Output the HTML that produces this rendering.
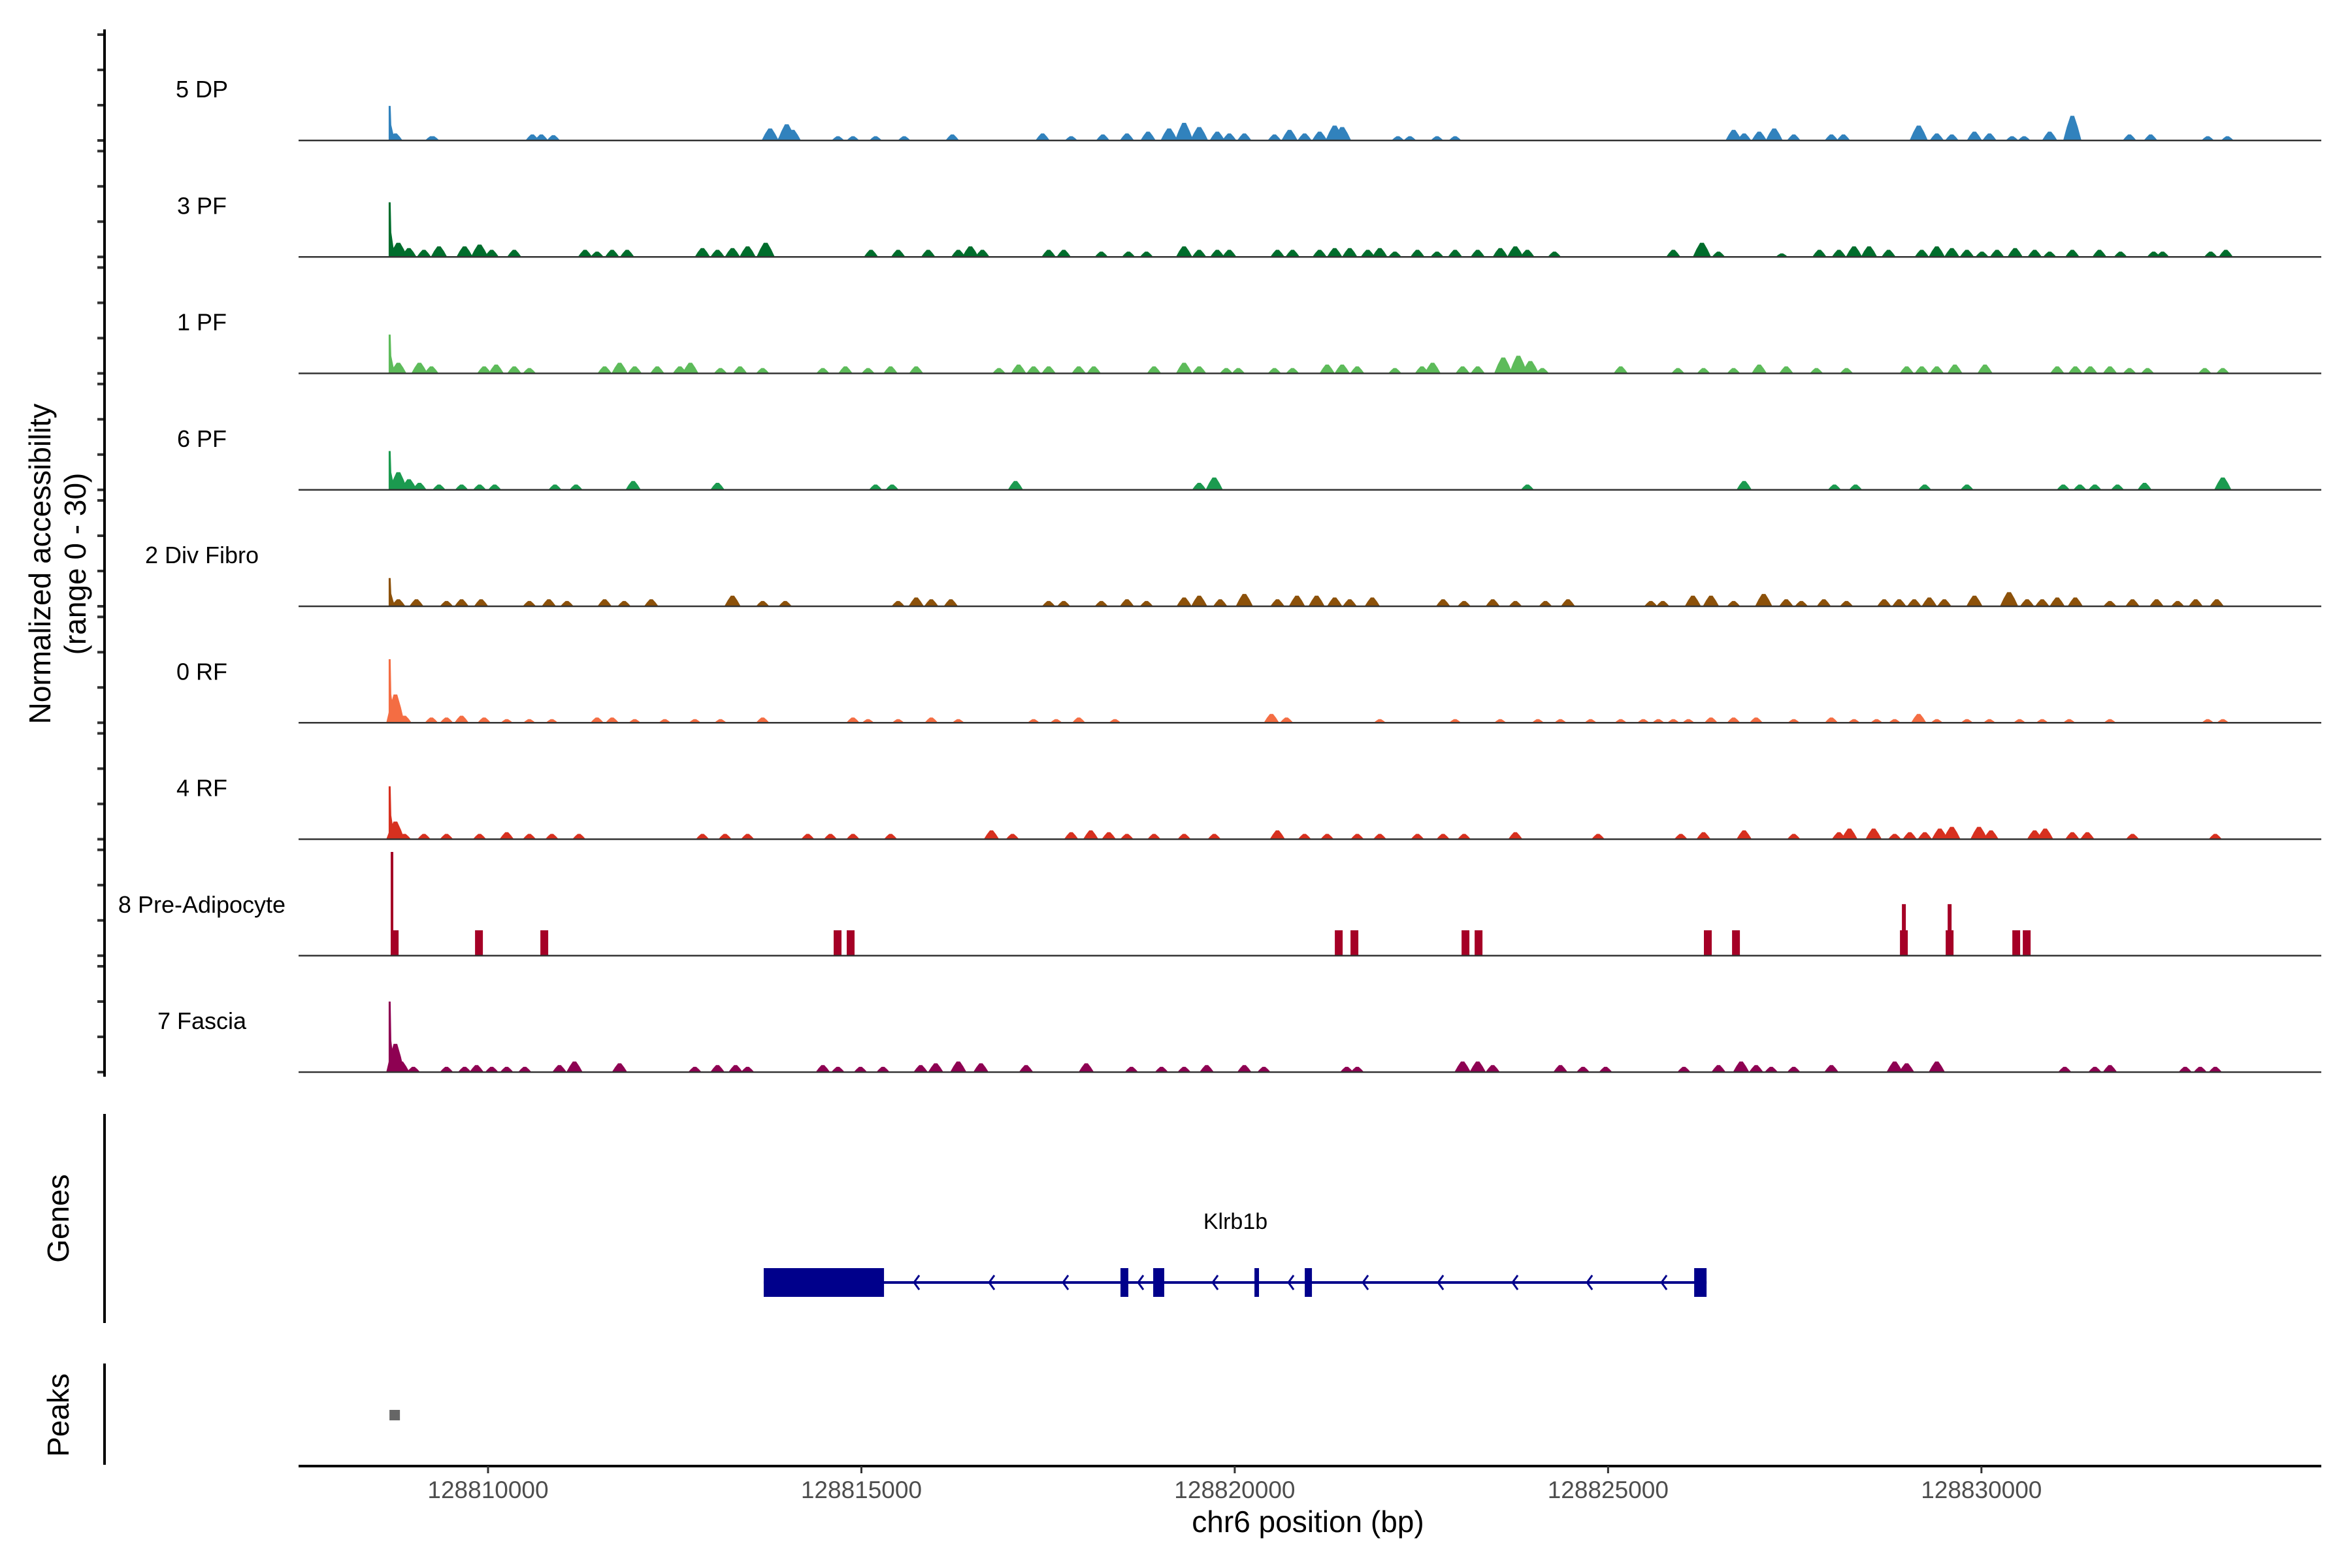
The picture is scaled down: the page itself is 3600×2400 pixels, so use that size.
<!DOCTYPE html>
<html><head><meta charset="utf-8">
<style>
html,body{margin:0;padding:0;background:#fff;}
svg{display:block;font-family:"Liberation Sans",Arial,sans-serif;}
</style></head>
<body>
<svg id="chart" width="3600" height="2400" viewBox="0 0 3600 2400" xmlns="http://www.w3.org/2000/svg">
<rect x="0" y="0" width="3600" height="2400" fill="#fff"/>
<g id="tracks"></g>
<g id="axes"></g>
<text transform="translate(77,863) rotate(-90)" text-anchor="middle" font-size="46" fill="#000">Normalized accessibility</text>
<text transform="translate(131,863) rotate(-90)" text-anchor="middle" font-size="46" fill="#000">(range 0 - 30)</text>
<text transform="translate(105,1865) rotate(-90)" text-anchor="middle" font-size="46" fill="#000">Genes</text>
<text transform="translate(105,2166) rotate(-90)" text-anchor="middle" font-size="46" fill="#000">Peaks</text>
<text x="2002" y="2345" text-anchor="middle" font-size="46" fill="#000">chr6 position (bp)</text>
</svg>
<script>
const CHROM_BASE = 128800150;
const trackNames = ["5 DP","3 PF","1 PF","6 PF","2 Div Fibro","0 RF","4 RF","8 Pre-Adipocyte","7 Fascia"];
const trackColors = ["#3182bd","#006d2c","#5dbb5a","#1b9a4f","#8c510a","#f46d43","#d7301f","#a50026","#8e0152"];
// positions are bp offsets from CHROM_BASE; values are normalized accessibility (0-30)
const pos0 = [8528,8609,9092,9113,10443,10564,10725,13628,13830,13850,13931,14536,14737,15040,15423,16068,17277,17660,18084,18406,18689,18971,19172,19374,19616,19777,19979,20382,20584,20785,20987,21188,21289,22035,22196,22559,22801,26531,26672,26874,27075,27337,27841,28002,29010,29252,29454,29756,29958,30260,30422,30764,31067,31833,32116,32881,33144];
const val0 = [9.8,2,1.2,1.2,1.7,1.7,1.5,3.4,3,4.6,3,1.2,1.2,1.2,1.2,1.7,2,1.2,1.7,2,2.5,3.4,5,3.8,2.5,2,2,1.7,3,2,2.5,4.2,3.8,1.2,1.2,1.2,1.2,3,2,2.5,3.4,1.7,1.7,1.7,4.2,2,1.7,2.5,2,1.2,1.2,2.5,7,1.7,1.7,1.2,1.2];
const pos1 = [8528,8649,8790,8992,9193,9536,9737,9899,10201,11149,11310,11512,11713,12721,12923,13124,13326,13568,14979,15342,15745,16148,16310,16471,17358,17560,18064,18427,18668,19172,19374,19616,19777,20422,20624,20987,21188,21390,21632,21793,21995,22297,22559,22801,23104,23406,23608,23769,24132,25724,26107,26329,27176,27680,27942,28144,28345,28607,29051,29252,29454,29656,29857,30059,30301,30563,30764,31067,31430,31712,32156,32276,32921,33123];
const val1 = [15.5,4,2.5,2,3,3,3.5,2,2,2,1.5,2,2,2.5,2,2.5,3,4,2,2,2,2,3,2,2,2,1.5,1.5,1.5,3,2,2,2,2,2,2,2.5,2.5,2,2.5,1.5,2,1.5,2,2,2.5,3,2,1.5,2,4,1.5,1,2,2,3,3,2,2,3,2.5,2,1.5,2,2.5,2,1.5,2,2,1.5,1.5,1.5,1.5,2];
const pos2 = [8528,8649,8931,9092,9798,9959,10201,10403,11411,11612,11814,12116,12419,12560,12963,13225,13528,14334,14636,14939,15241,15584,16693,16955,17156,17358,17761,17963,18769,19172,19374,19737,19898,20382,20624,21088,21289,21491,21995,22358,22499,22902,23104,23446,23648,23809,23970,25019,25785,26128,26531,26874,27236,27640,28043,28849,29051,29252,29494,29898,30865,31107,31309,31571,31833,32075,32841,33083];
const val2 = [11,3,3,2,2,2.5,2,1.5,2,3,2,2,2,3,1.5,2,1.5,1.5,2,1.5,2,2,1.5,2.5,2,2,2,2,2,3,2,1.5,1.5,1.5,1.5,2.5,2.5,2,1.5,2,3,2,2,4.5,5,3.5,1.5,2,1.5,1.5,1.5,2.5,2,1.5,1.5,2,2,2,2.5,2.5,2,2,2,2,1.5,1.5,1.5,1.5];
const pos3 = [8528,8649,8790,8931,9193,9496,9737,9939,10746,11028,11794,12923,15040,15261,16914,19374,19576,23769,26672,27882,28164,29091,29656,30946,31168,31369,31672,32035,33083];
const val3 = [11,5,3,2,1.5,1.5,1.5,1.5,1.5,1.5,2.5,2,1.5,1.5,2.5,2,3.5,1.5,2.5,1.5,1.5,1.5,1.5,1.5,1.5,1.5,1.5,2,3.5];
const pos4 = [8528,8649,8891,9294,9496,9757,10403,10665,10907,11411,11673,12036,13124,13528,13830,15342,15584,15786,16048,17358,17560,18064,18406,18668,19172,19374,19656,19979,20422,20684,20946,21188,21390,21692,22640,22922,23305,23608,24011,24313,25422,25583,25986,26228,26531,26934,27236,27438,27740,28043,28547,28748,28950,29152,29353,29756,30220,30462,30664,30865,31107,31571,31873,32196,32478,32720,33002];
const val4 = [8,2,2,1.5,2,2,1.5,2,1.5,2,1.5,2,3,1.5,1.5,1.5,2.5,2,2,1.5,1.5,1.5,2,1.5,2.5,3,2,3.5,2,3,3,2.5,2,2.5,2,1.5,2,1.5,1.5,2,1.5,1.5,3,3,1.5,3.5,2,1.5,2,1.5,2,2,2,2.5,2,3,4,2,2,2.5,2.5,1.5,2,2,1.5,2,2];
const pos5 = [8528,8609,8730,9092,9294,9496,9798,10100,10403,10705,11310,11512,11814,12217,12620,12963,13528,14737,14939,15342,15786,16148,17156,17459,17761,18245,20342,20543,21793,22801,23406,23910,24212,24616,25019,25321,25523,25724,25926,26228,26531,26833,27337,27841,28144,28446,28688,29010,29252,29656,29958,30361,30664,31026,31571,32881,33083];
const val5 = [18,8,2,1.5,1.5,2,1.5,1,1,1,1.5,1.5,1,1,1,1,1.5,1.5,1,1,1.5,1,1,1,1.5,1,2.5,1.5,1,1,1,1,1,1,1,1,1,1,1,1.5,1.5,1.5,1,1.5,1,1,1,2.5,1,1,1,1,1,1,1,1,1];
const pos6 = [8528,8609,8730,8992,9294,9737,10100,10403,10705,11068,12721,13024,13326,14132,14435,14737,15241,16592,16874,17660,17922,18164,18406,18769,19172,19576,20422,20785,21088,21491,21793,22297,22640,22922,23608,24716,25825,26128,26672,27337,27942,28083,28406,28688,28890,29091,29293,29454,29817,29978,30563,30704,31067,31268,31873,32982];
const val6 = [15,5,1.5,1.5,1.5,1.5,2,1.5,1.5,1.5,1.5,1.5,1.5,1.5,1.5,1.5,1.5,2.5,1.5,2,2.5,2,1.5,1.5,1.5,1.5,2.5,1.5,1.5,1.5,1.5,1.5,1.5,1.5,2,1.5,1.5,2,2.5,1.5,2,3,3,1.5,2,2,3,3.5,3.5,2.5,2.5,3,2,2,1.5,1.5];
const pos7 = [8564,8600,9728,10603,14531,14706,21243,21453,22940,23115,26186,26563,28811,28811,29424,29424,30316,30456];
const val7 = [29.4,7.2,7.2,7.2,7.2,7.2,7.2,7.2,7.2,7.2,7.2,7.2,7.2,14.6,7.2,14.6,7.2,7.2];
const pos8 = [8528,8609,8689,8850,9294,9536,9697,9899,10100,10342,10806,11008,11612,12620,12923,13165,13326,14334,14536,14838,15140,15644,15846,16148,16451,17056,17862,18467,18870,19172,19475,19979,20241,21350,21491,22902,23104,23305,24212,24515,24817,25866,26329,26632,26833,27035,27337,27841,28688,28849,29252,30966,31369,31571,32579,32780,32982];
const val8 = [20,8,3,1.5,1.5,1.5,2,1.5,1.5,1.5,2,3,2.5,1.5,2,2,1.5,2,1.5,1.5,1.5,2,2.5,3,2.5,2,2.5,1.5,1.5,1.5,2,2,1.5,1.5,1.5,3,3,2,2,1.5,1.5,1.5,2,3,2,1.5,1.5,2,3,2.5,3,1.5,1.5,2,1.5,1.5,1.5];
const trackPos = [pos0,pos1,pos2,pos3,pos4,pos5,pos6,pos7,pos8];
const trackVal = [val0,val1,val2,val3,val4,val5,val6,val7,val8];
const xTicks = [128810000,128815000,128820000,128825000,128830000];
const yTickValues = [0,10,20,30];
const geneName = "Klrb1b";
const geneStart = 13542, geneEnd = 26169, cdsEnd = 15153;
const exonStarts = [18320,18758,20114,20788,26003];
const exonEnds = [18425,18906,20175,20884,26169];
const arrowPos = [15590,16596,17585,18591,19589,20604,21601,22608,23605,24603,25600];
const peakStarts = [8530];
const peakEnds = [8670];

const NS = "http://www.w3.org/2000/svg";
const X0 = 457, X1 = 3553;
function xsAbs(bp){ return 747 + (bp - 128810000) * 0.11429; }
function xs(off){ return xsAbs(CHROM_BASE + off); }
const BASE0 = 215, STEP = 178.25, UNIT = 5.4;
function ys(i, v){ return BASE0 + i*STEP - Math.min(v,30.5)*UNIT; }
function mk(tag, attrs, parent){ const e=document.createElementNS(NS,tag); for(const k in attrs) e.setAttribute(k, attrs[k]); parent.appendChild(e); return e; }
const tracksG = document.getElementById('tracks');
const axesG = document.getElementById('axes');

trackNames.forEach((name, i) => {
  const g = mk('g', {}, tracksG);
  
  
  const base = BASE0 + i*STEP;
  const lbl = mk('text', {x:309, y:base-66, 'text-anchor':'middle', 'font-size':36, fill:'#000'}, g);
  lbl.textContent = name;
  
  
  const P = trackPos[i], V = trackVal[i];
  for (let j=0;j<P.length;j++){
    const cx = xs(P[j]); const top = ys(i, V[j]);
    let pts;
    if (i === 7) {
      const w = j===0 ? 2 : (V[j] > 10 ? 3 : 6);
      pts = [[cx-w,base],[cx-w,top],[cx+w,top],[cx+w,base]];
    } else if (j===0 && V[j] > 6) {
      const mid = ys(i, V[j]*0.45), low = ys(i, V[j]*0.2);
      pts = [[cx-1,base],[cx-1,top],[cx+2,top],[cx+3,mid],[cx+6,low],[cx+9,base]];
    } else {
      const w = 8 + Math.min(V[j],4)*1.5;
      const half = ys(i, V[j]*0.55);
      pts = [[cx-w,base],[cx-w*0.6,half],[cx-w*0.2,top],[cx+w*0.2,top],[cx+w*0.6,half],[cx+w,base]];
    }
    const p = mk('polygon', {points: pts.map(q=>q[0].toFixed(1)+','+q[1].toFixed(1)).join(' '), fill: trackColors[i]}, g);
    
    
  }
  const bl = mk('line', {x1:X0, x2:X1, y1:base, y2:base, stroke:'#333', 'stroke-width':2.5}, g);
  
  
  yTickValues.forEach(v => {
    const t = mk('line', {x1:149, x2:160, y1:base - v*UNIT, y2:base - v*UNIT, stroke:'#333', 'stroke-width':4}, axesG);
    
    
  });
});
const ya = mk('line', {x1:160, x2:160, y1:45, y2:1648, stroke:'#000', 'stroke-width':4}, axesG);


const ga = mk('line', {x1:160, x2:160, y1:1705, y2:2025, stroke:'#000', 'stroke-width':4}, axesG);


const pa = mk('line', {x1:160, x2:160, y1:2087, y2:2242, stroke:'#000', 'stroke-width':4}, axesG);



// gene track
const geneG = mk('g', {}, tracksG);


const gy = 1963, NAVY = '#00008b';
const gl = mk('line', {x1:xs(geneStart), x2:xs(geneEnd), y1:gy, y2:gy, stroke:NAVY, 'stroke-width':4}, geneG);


const cds = mk('rect', {x:xs(geneStart), y:gy-22, width:xs(cdsEnd)-xs(geneStart), height:44, fill:NAVY}, geneG);


exonStarts.forEach((s,k) => {
  const e = mk('rect', {x:xs(s), y:gy-22, width:Math.max(6, xs(exonEnds[k])-xs(s)), height:44, fill:NAVY}, geneG);
  
  
});
arrowPos.forEach(a => {
  const x = xs(a);
  const ar = mk('polyline', {points:`${x+4},${gy-11} ${x-4},${gy} ${x+4},${gy+11}`, fill:'none', stroke:NAVY, 'stroke-width':3}, geneG);
  
  
});
const gt = mk('text', {x:1891, y:1881, 'text-anchor':'middle', 'font-size':34, fill:'#000'}, geneG);
gt.textContent = geneName;



// peaks
peakStarts.forEach((s,k) => {
  const r = mk('rect', {x:xs(s), y:2158, width:Math.max(16, xs(peakEnds[k])-xs(s)), height:16, fill:'#666'}, tracksG);
  
  
});

// x axis
const xa = mk('line', {x1:X0, x2:X1, y1:2244, y2:2244, stroke:'#000', 'stroke-width':4}, axesG);


xTicks.forEach(t => {
  const x = xsAbs(t);
  const tk = mk('line', {x1:x, x2:x, y1:2244, y2:2255, stroke:'#333', 'stroke-width':3}, axesG);
  
  
  const tl = mk('text', {x:x, y:2293, 'text-anchor':'middle', 'font-size':37, fill:'#4d4d4d'}, axesG);
  tl.textContent = String(t);
  
  
});
</script>
</body></html>
